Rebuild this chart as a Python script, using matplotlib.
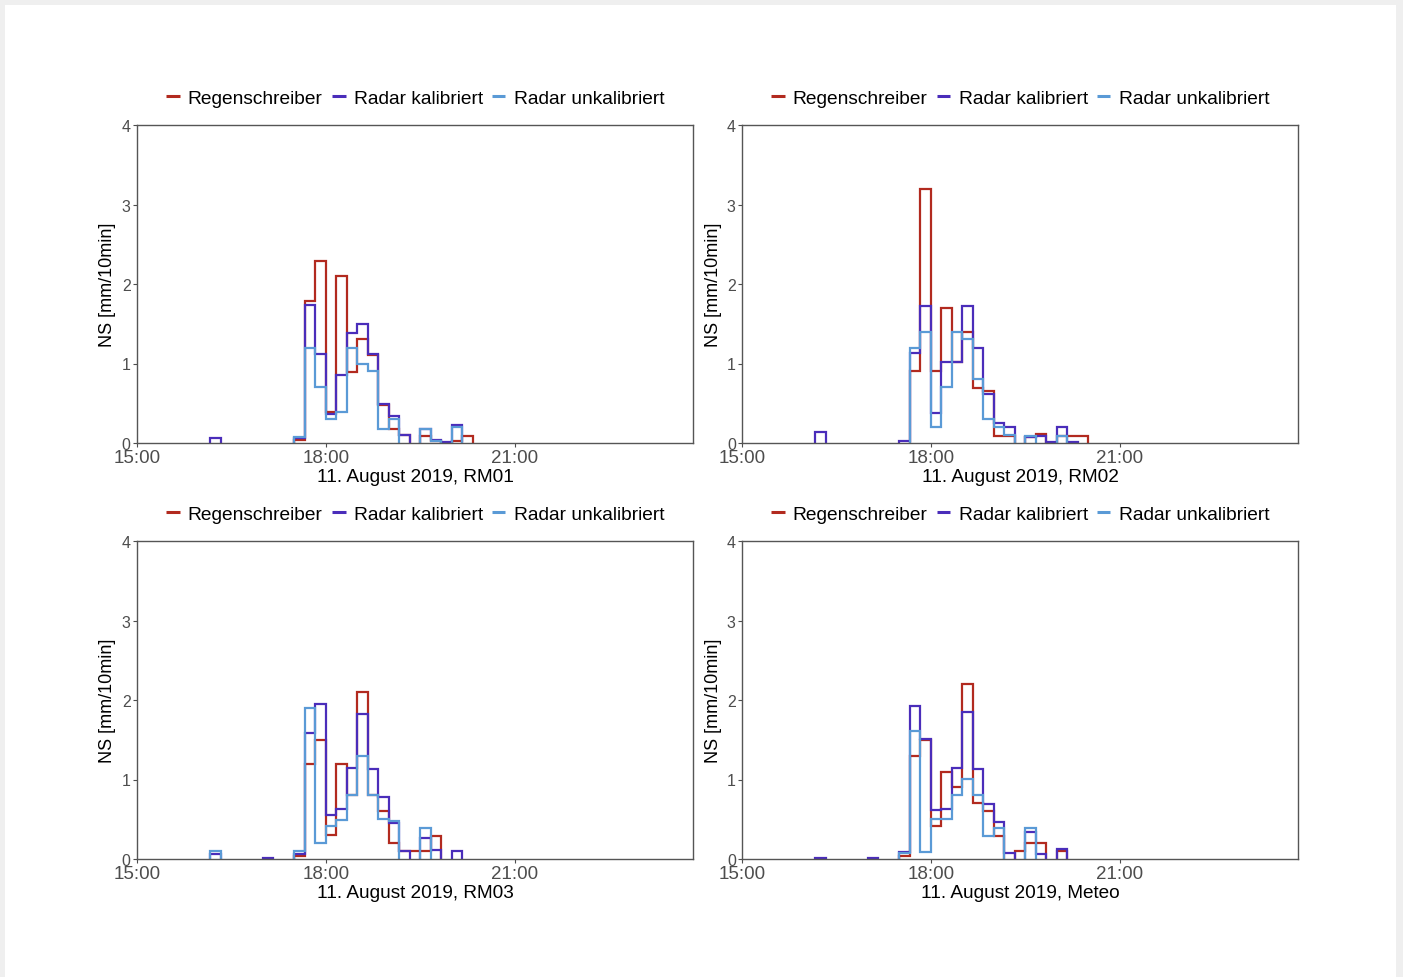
import matplotlib
matplotlib.use("Agg")
import matplotlib.pyplot as plt
from matplotlib.patches import Rectangle
from matplotlib.lines import Line2D

plt.rcParams['font.family'] = ['Liberation Sans', 'DejaVu Sans']

# ---- data (10-minute bins, start times) ----
bins = ["16:10", "16:20", "16:30", "16:40", "16:50", "17:00", "17:10", "17:20",
        "17:30", "17:40", "17:50", "18:00", "18:10", "18:20", "18:30", "18:40",
        "18:50", "19:00", "19:10", "19:20", "19:30", "19:40", "19:50", "20:00",
        "20:10", "20:20"]

series_names = ["Regenschreiber", "Radar kalibriert", "Radar unkalibriert"]
panel_titles = ["11. August 2019, RM01", "11. August 2019, RM02",
                "11. August 2019, RM03", "11. August 2019, Meteo"]

# RM01
rm01_regen = [0, 0, 0, 0, 0, 0, 0, 0, 0.04, 1.79, 2.29, 0.39, 2.10, 0.89, 1.31, 1.11,
              0.48, 0.18, 0.10, 0, 0.09, 0.02, 0, 0.02, 0.09, 0]
rm01_kal = [0.06, 0, 0, 0, 0, 0, 0, 0, 0.06, 1.74, 1.12, 0.37, 0.86, 1.38, 1.50, 1.12,
            0.49, 0.34, 0.10, 0, 0.17, 0.04, 0.01, 0.23, 0, 0]
rm01_unkal = [0, 0, 0, 0, 0, 0, 0, 0, 0.08, 1.19, 0.70, 0.30, 0.39, 1.19, 0.99, 0.90,
              0.18, 0.30, 0, 0, 0.18, 0.03, 0, 0.20, 0, 0]
# RM02
rm02_regen = [0, 0, 0, 0, 0, 0, 0, 0, 0, 0.90, 3.20, 0.90, 1.70, 1.02, 1.40, 0.69,
              0.66, 0.09, 0.09, 0, 0.07, 0.11, 0, 0.09, 0.09, 0.09]
rm02_kal = [0.14, 0, 0, 0, 0, 0, 0, 0, 0.02, 1.13, 1.72, 0.38, 1.02, 1.02, 1.72, 1.20,
            0.62, 0.25, 0.20, 0, 0.07, 0.09, 0.01, 0.20, 0.01, 0]
rm02_unkal = [0, 0, 0, 0, 0, 0, 0, 0, 0, 1.19, 1.40, 0.20, 0.70, 1.40, 1.31, 0.80,
              0.30, 0.20, 0.10, 0, 0.09, 0, 0, 0.09, 0, 0]
# RM03
rm03_regen = [0, 0, 0, 0, 0, 0, 0, 0, 0.04, 1.19, 1.50, 0.30, 1.19, 0.80, 2.10, 0.80,
              0.61, 0.20, 0.10, 0.10, 0.10, 0.29, 0, 0, 0, 0]
rm03_kal = [0.06, 0, 0, 0, 0, 0.01, 0, 0, 0.06, 1.58, 1.95, 0.55, 0.63, 1.15, 1.82, 1.13,
            0.78, 0.45, 0.10, 0, 0.26, 0.11, 0, 0.10, 0, 0]
rm03_unkal = [0.10, 0, 0, 0, 0, 0, 0, 0, 0.10, 1.90, 0.20, 0.41, 0.49, 0.80, 1.30, 0.80,
              0.50, 0.48, 0, 0, 0.39, 0, 0, 0, 0, 0]
# Meteo
meteo_regen = [0, 0, 0, 0, 0, 0, 0, 0, 0.04, 1.30, 1.50, 0.42, 1.10, 0.90, 2.20, 0.70,
               0.60, 0.29, 0, 0.10, 0.20, 0.20, 0, 0.10, 0, 0]
meteo_kal = [0.01, 0, 0, 0, 0, 0.01, 0, 0, 0.09, 1.92, 1.51, 0.62, 0.63, 1.14, 1.85, 1.13,
             0.69, 0.46, 0.07, 0, 0.34, 0.06, 0, 0.13, 0, 0]
meteo_unkal = [0, 0, 0, 0, 0, 0, 0, 0, 0.08, 1.61, 0.09, 0.50, 0.50, 0.80, 1.01, 0.80,
               0.29, 0.39, 0, 0, 0.39, 0, 0, 0, 0, 0]

xtick_labels = ["15:00", "18:00", "21:00"]
ytick_values = [0, 1, 2, 3, 4]

panels = [
    (rm01_regen, rm01_kal, rm01_unkal),
    (rm02_regen, rm02_kal, rm02_unkal),
    (rm03_regen, rm03_kal, rm03_unkal),
    (meteo_regen, meteo_kal, meteo_unkal),
]

colors = ["#B22A1F", "#4A2DBA", "#5A9AD6"]


def to_hours(s):
    h, m = s.split(":")
    return int(h) + int(m) / 60.0


bin_starts = [to_hours(b) for b in bins]
bin_w = 10 / 60.0
xticks = [to_hours(t) for t in xtick_labels]


def runs(vals):
    """Split into contiguous runs of non-zero bins: returns (start_index, values)."""
    out, cur, start = [], [], None
    for i, v in enumerate(vals):
        if v > 0:
            if start is None:
                start = i
            cur.append(v)
        elif start is not None:
            out.append((start, cur))
            cur, start = [], None
    if start is not None:
        out.append((start, cur))
    return out


W, H = 1403, 978
fig = plt.figure(figsize=(W / 100, H / 100), dpi=100, facecolor="#efefef")
fig.patches.append(Rectangle((5 / W, 0), (1396 - 5) / W, (978 - 6) / H,
                             transform=fig.transFigure, facecolor="white",
                             edgecolor="none", zorder=-10))

# axes boxes in pixel coords (left, top, right, bottom)
boxes = [(137, 126, 693, 444), (742, 126, 1298, 444),
         (137, 542, 693, 860), (742, 542, 1298, 860)]

for (l, t, r, b), data, title in zip(boxes, panels, panel_titles):
    aw, ah = r - l, b - t
    ax = fig.add_axes([l / W, 1 - b / H, aw / W, ah / H])
    ax.set_zorder(1)
    ax.set_facecolor("white")
    for vals, col in zip(data, colors):
        for s, seg in runs(vals):
            edges = [bin_starts[s] + k * bin_w for k in range(len(seg) + 1)]
            ax.stairs(seg, edges, baseline=0, fill=False, color=col,
                      linewidth=1.6)
    ax.set_xlim(15, 23 + 50 / 60)
    ax.set_ylim(0, 4)
    ax.set_xticks(xticks)
    ax.set_xticklabels(xtick_labels, fontsize=13.5, color="#4d4d4d")
    ax.set_yticks(ytick_values)
    ax.set_yticklabels([str(v) for v in ytick_values], fontsize=11.5, color="#4d4d4d")
    ax.tick_params(axis="both", length=3, width=0.8, color="#4d4d4d", pad=1.5)
    for sp in ax.spines.values():
        sp.set_color("#555555")
        sp.set_linewidth(1.0)
    ax.set_xlabel(title, fontsize=13.7, color="black")
    ax.xaxis.set_label_coords(0.5, -34 / ah)
    ax.xaxis.label.set_va("center")
    ax.set_ylabel("NS [mm/10min]", fontsize=13, color="black")
    ax.yaxis.set_label_coords(-29 / aw, 0.5)
    ax.yaxis.label.set_va("center")
    handles = [Line2D([0], [0], color=c, lw=2.2, solid_capstyle="butt") for c in colors]
    ax.legend(handles, series_names, loc="center", ncol=3,
              bbox_to_anchor=(0.5, 1 + 27 / ah), frameon=False,
              fontsize=13.8, handlelength=0.72, handletextpad=0.42,
              columnspacing=0.47, borderaxespad=0)

fig.savefig("out.png", dpi=100, facecolor=fig.get_facecolor())
